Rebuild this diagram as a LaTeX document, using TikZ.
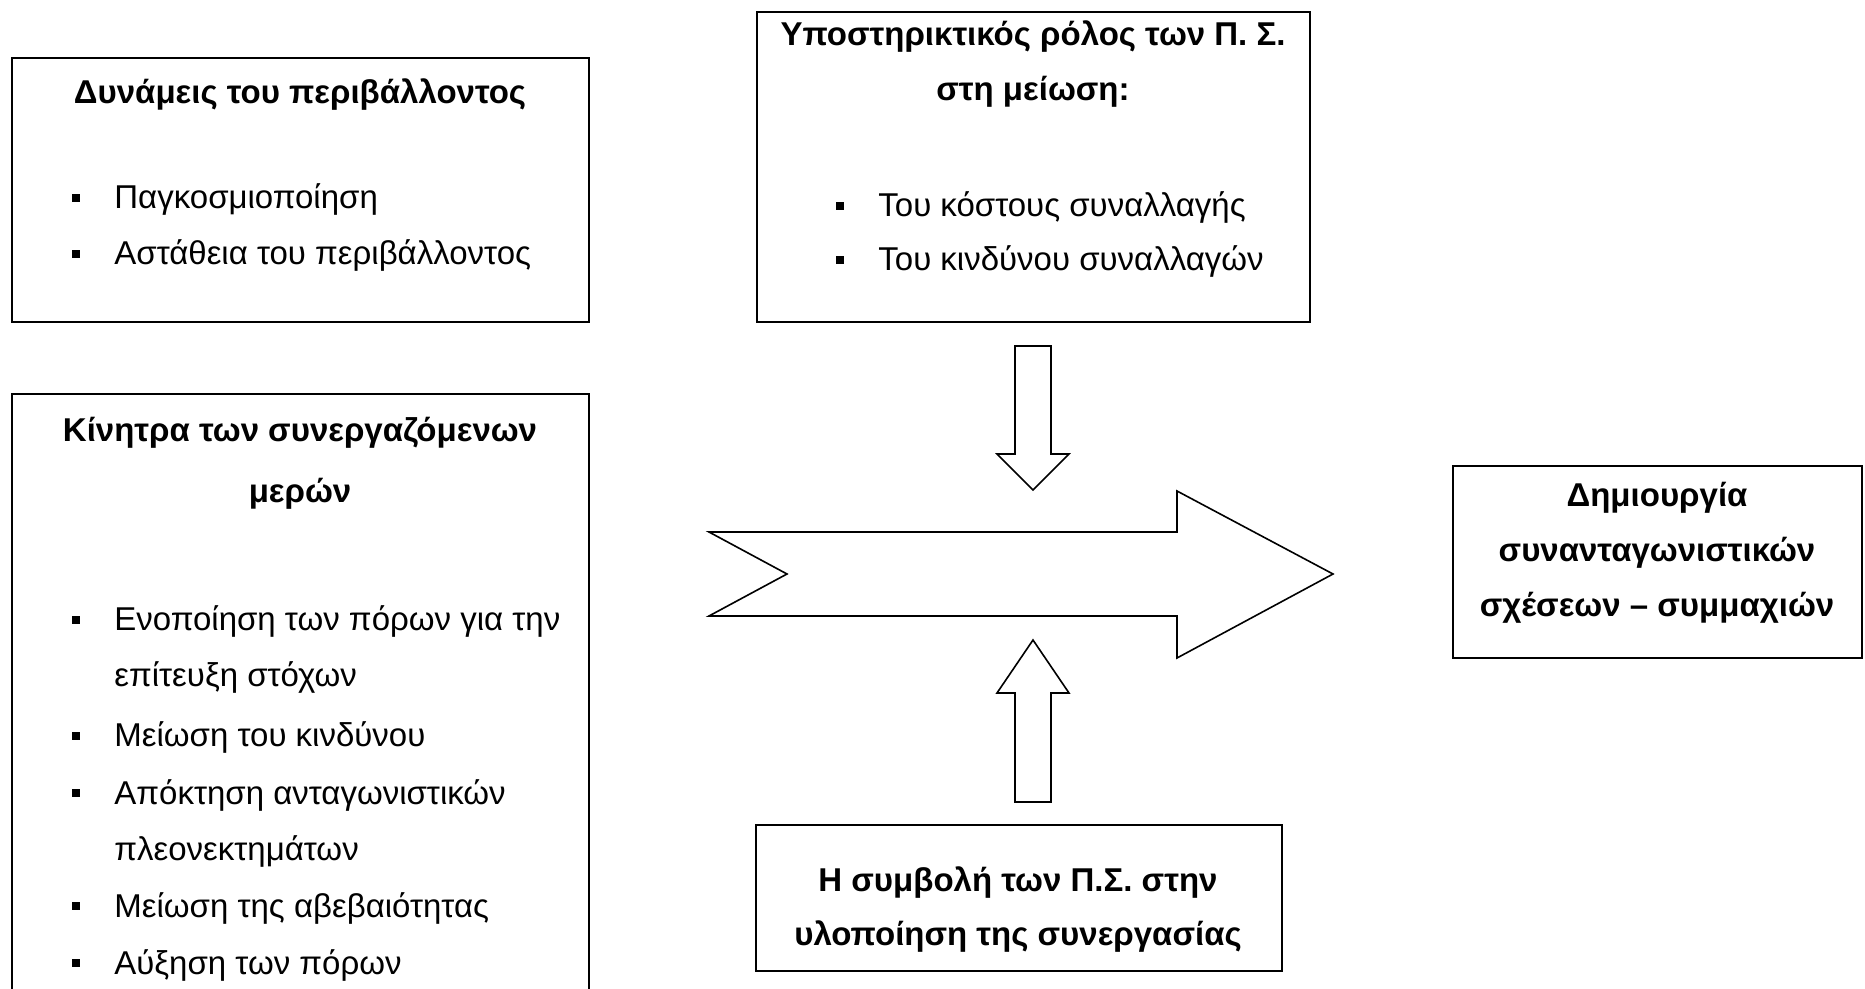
\documentclass[tikz,border=0pt]{standalone}
\usepackage{fontspec}
\setmainfont{Liberation Sans}
\begin{document}
\begin{tikzpicture}[x=0.5pt,y=-0.5pt,
  panel/.style={draw=black, line width=0.8pt, fill=white},
  blockarrow/.style={draw=black, line width=0.8pt, fill=white, line join=miter},
  head/.style={font=\fontsize{16.5}{20}\selectfont\bfseries, anchor=base, inner sep=0pt},
  item/.style={font=\fontsize{16.5}{20}\selectfont, anchor=base west, inner sep=0pt},
  bul/.style={fill=black, draw=none, minimum size=4.4pt, inner sep=0pt}]
\path[use as bounding box] (0,0) rectangle (1865,989);
\clip (0,0) rectangle (1865,989);

% --- environmental forces
\path[panel] (12,58) rectangle (589,322);
\node[head] (envT) at (300,104) {Δυνάμεις του περιβάλλοντος};
\node[bul] (envB1) at (76,198) {};
\node[item] (envI1) at (114,209) {Παγκοσμιοποίηση};
\node[bul] (envB2) at (76,254) {};
\node[item] (envI2) at (114,265) {Αστάθεια του περιβάλλοντος};

% --- supporting role of IS
\path[panel] (757,12) rectangle (1310,322);
\node[head] (supT1) at (1033,46) {Υποστηρικτικός ρόλος των Π. Σ.};
\node[head] (supT2) at (1033,101) {στη μείωση:};
\node[bul] (supB1) at (840,206) {};
\node[item] (supI1) at (878,217) {Του κόστους συναλλαγής};
\node[bul] (supB2) at (840,260) {};
\node[item] (supI2) at (878,271) {Του κινδύνου συναλλαγών};

% --- incentives of the partners (box runs past the lower edge)
\path[panel] (12,394) rectangle (589,1010);
\node[head] (incT1) at (300,442) {Κίνητρα των συνεργαζόμενων};
\node[head] (incT2) at (300,503) {μερών};
\node[bul] (incB1) at (76,620) {};
\node[item] (incI1) at (114,631) {Ενοποίηση των πόρων για την};
\node[item] (incI1b) at (114,687) {επίτευξη στόχων};
\node[bul] (incB2) at (76,736) {};
\node[item] (incI2) at (114,747) {Μείωση του κινδύνου};
\node[bul] (incB3) at (76,793) {};
\node[item] (incI3) at (114,804) {Απόκτηση ανταγωνιστικών};
\node[item] (incI3b) at (114,860) {πλεονεκτημάτων};
\node[bul] (incB4) at (76,906) {};
\node[item] (incI4) at (114,917) {Μείωση της αβεβαιότητας};
\node[bul] (incB5) at (76,963) {};
\node[item] (incI5) at (114,974) {Αύξηση των πόρων};

% --- contribution of IS
\path[panel] (756,825) rectangle (1282,971);
\node[head] (conT1) at (1018,891) {Η συμβολή των Π.Σ. στην};
\node[head] (conT2) at (1018,945) {υλοποίηση της συνεργασίας};

% --- outcome
\path[panel] (1453,466) rectangle (1862,658);
\node[head] (outT1) at (1657,507) {Δημιουργία};
\node[head] (outT2) at (1657,562) {συνανταγωνιστικών};
\node[head] (outT3) at (1657,617) {σχέσεων – συμμαχιών};

% --- block arrows
\path[blockarrow] (709,532) -- (1177,532) -- (1177,491) -- (1333,574)
  -- (1177,658) -- (1177,616) -- (709,616) -- (787,574) -- cycle;
\path[blockarrow] (1015,346) -- (1051,346) -- (1051,454) -- (1069,454)
  -- (1033,490) -- (997,454) -- (1015,454) -- cycle;
\path[blockarrow] (1015,802) -- (1051,802) -- (1051,693) -- (1069,693)
  -- (1033,640) -- (997,693) -- (1015,693) -- cycle;
\end{tikzpicture}
\end{document}
